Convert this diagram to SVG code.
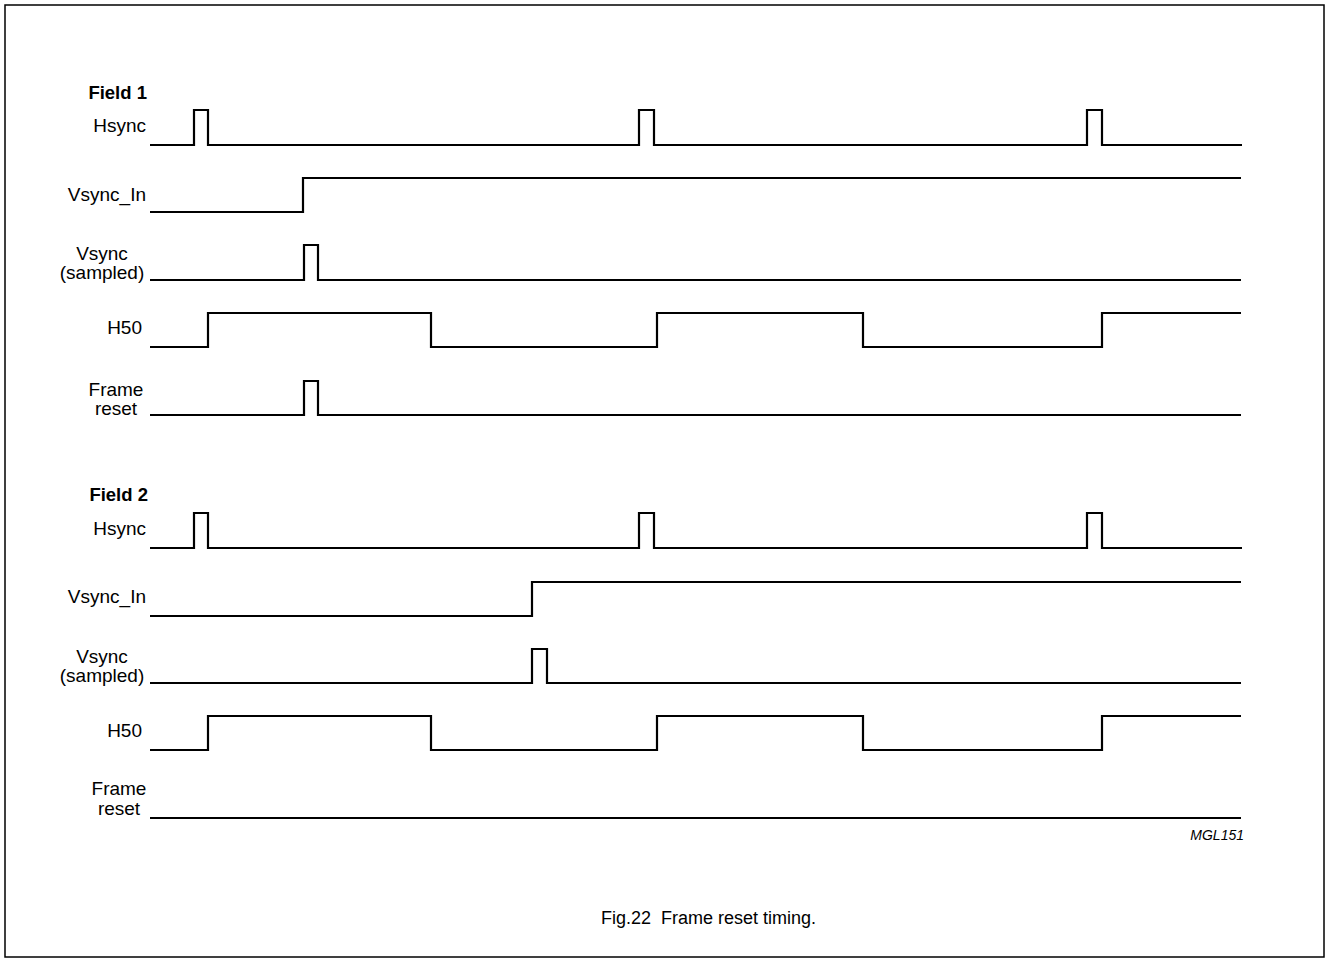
<svg xmlns="http://www.w3.org/2000/svg" width="1327" height="961" viewBox="0 0 1327 961">
<style>
.w{fill:none;stroke:#000;stroke-width:2.2;stroke-linejoin:miter;stroke-linecap:butt}
.l{font-family:"Liberation Sans",Arial,sans-serif;font-size:19px;fill:#000}
.r{text-anchor:end}
.c{text-anchor:middle}
.b{font-weight:bold;font-size:18.5px}
</style>
<rect x="5" y="5" width="1319" height="952" fill="#fff" stroke="#000" stroke-width="1.5"/>
<g id="labels">
<text class="l b r" x="147" y="99">Field 1</text>
<text class="l r" x="146" y="132">Hsync</text>
<text class="l r" x="146" y="201">Vsync_In</text>
<text class="l c" x="102" y="260">Vsync</text>
<text class="l c" x="102" y="279">(sampled)</text>
<text class="l r" x="142" y="334">H50</text>
<text class="l c" x="116" y="396">Frame</text>
<text class="l c" x="116" y="415">reset</text>
<text class="l b r" x="148" y="501">Field 2</text>
<text class="l r" x="146" y="535">Hsync</text>
<text class="l r" x="146" y="603">Vsync_In</text>
<text class="l c" x="102" y="663">Vsync</text>
<text class="l c" x="102" y="682">(sampled)</text>
<text class="l r" x="142" y="737">H50</text>
<text class="l c" x="119" y="795">Frame</text>
<text class="l c" x="119" y="815">reset</text>
</g>
<g id="connectors">
<path id="f1-hsync" class="w" d="M150,145 H194 V110 H208 V145 H639 V110 H654 V145 H1087 V110 H1102 V145 H1242"/>
<path id="f1-vsyncin" class="w" d="M150,212 H303 V178 H1241"/>
<path id="f1-vsync" class="w" d="M150,280 H304 V245 H318 V280 H1241"/>
<path id="f1-h50" class="w" d="M150,347 H208 V313 H431 V347 H657 V313 H863 V347 H1102 V313 H1241"/>
<path id="f1-frame" class="w" d="M150,415 H304 V381 H318 V415 H1241"/>
<path id="f2-hsync" class="w" d="M150,548 H194 V513 H208 V548 H639 V513 H654 V548 H1087 V513 H1102 V548 H1242"/>
<path id="f2-vsyncin" class="w" d="M150,616 H532 V582 H1241"/>
<path id="f2-vsync" class="w" d="M150,683 H532 V649 H547 V683 H1241"/>
<path id="f2-h50" class="w" d="M150,750 H208 V716 H431 V750 H657 V716 H863 V750 H1102 V716 H1241"/>
<path id="f2-frame" class="w" d="M150,818 H1241"/>
</g>
<text x="1244" y="840" font-family="Liberation Sans,Arial,sans-serif" font-size="14" font-style="italic" text-anchor="end">MGL151</text>
<text x="816" y="924" font-family="Liberation Sans,Arial,sans-serif" font-size="18" text-anchor="end" xml:space="preserve">Fig.22  Frame reset timing.</text>
</svg>
